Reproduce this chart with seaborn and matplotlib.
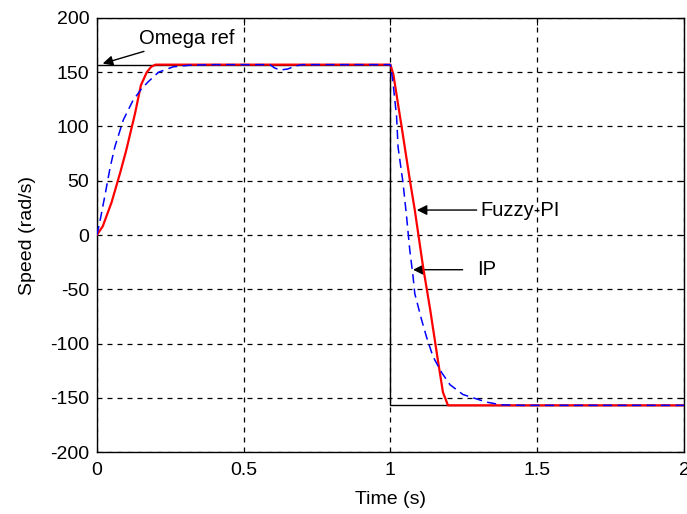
import matplotlib
matplotlib.use("Agg")
import matplotlib.pyplot as plt
import seaborn as sns
import pandas as pd

# Speed reference (rad/s)
ref_t = [0.0, 1.0, 1.0, 2.0]
ref_w = [157, 157, -157, -157]

# Fuzzy-PI controller response
fz_t = [0.0, 0.02, 0.05, 0.08, 0.10, 0.13, 0.15, 0.17, 0.185, 0.20,
        1.00, 1.01, 1.038, 1.066, 1.083, 1.111, 1.135, 1.162, 1.179, 1.196, 2.0]
fz_w = [0, 8, 30, 58, 78, 112, 138, 150, 155, 157,
        157, 148, 100, 51, 23, -29, -68, -116, -145, -157, -157]

# IP controller response
ip_t = [0.0, 0.01, 0.03, 0.045, 0.061, 0.09, 0.123, 0.15, 0.174, 0.21, 0.26, 0.317,
        0.40, 0.59, 0.605, 0.624, 0.65, 0.68, 0.70, 1.00,
        1.009, 1.021, 1.026, 1.043, 1.055, 1.066, 1.077, 1.083, 1.106, 1.123, 1.145,
        1.175, 1.203, 1.247, 1.327, 1.378, 1.45, 2.0]
ip_w = [0, 12, 40, 62, 81, 106, 124, 134, 141, 150, 155, 156.5,
        157, 157, 154, 152, 153, 156, 157, 157,
        140, 109, 81, 48, 17, -14, -38, -54, -78, -94, -112,
        -127, -138, -147, -154, -156.5, -157, -157]

x_ticks = [0, 0.5, 1, 1.5, 2]
x_tick_labels = ["0", "0.5", "1", "1.5", "2"]
y_ticks = [-200, -150, -100, -50, 0, 50, 100, 150, 200]

sns.set_style("white")
plt.rcParams["font.family"] = ["Liberation Sans", "DejaVu Sans"]
plt.rcParams["font.size"] = 14
plt.rcParams["axes.unicode_minus"] = False
plt.rcParams["text.color"] = "black"
plt.rcParams["axes.labelcolor"] = "black"

fig = plt.figure(figsize=(6.87, 5.14), dpi=100)
ax = fig.add_axes([0.141, 0.1206, 0.9956 - 0.141, 0.965 - 0.1206])

ref_df = pd.DataFrame({"t": ref_t, "w": ref_w})
fz_df = pd.DataFrame({"t": fz_t, "w": fz_w})
ip_df = pd.DataFrame({"t": ip_t, "w": ip_w})

sns.lineplot(data=ref_df, x="t", y="w", sort=False, estimator=None,
             color="black", linewidth=1.0, ax=ax, zorder=3)
sns.lineplot(data=fz_df, x="t", y="w", sort=False, estimator=None,
             color=(1, 0, 0), linewidth=1.6, ax=ax, zorder=4)
sns.lineplot(data=ip_df, x="t", y="w", sort=False, estimator=None,
             color=(0, 0, 1), linewidth=1.1, ax=ax, zorder=5)
ax.lines[-1].set_dashes([6, 3.5])

ax.set_xlim(0, 2)
ax.set_ylim(-200, 200)
ax.set_xticks(x_ticks)
ax.set_xticklabels(x_tick_labels)
ax.set_yticks(y_ticks)
ax.grid(True, color="black", linestyle=(0, (4, 4)), linewidth=0.9)
ax.tick_params(direction="in", length=5, width=0.8, top=True, right=True,
               labelsize=14, colors="black")
ax.tick_params(axis="x", pad=7)
ax.tick_params(axis="y", pad=5.5)
for s in ax.spines.values():
    s.set_visible(True)
    s.set_color("black")
    s.set_linewidth(1.0)

ax.set_xlabel("Time (s)", fontsize=14)
ax.set_ylabel("Speed (rad/s)", fontsize=14)
ax.xaxis.set_label_coords(0.5, -0.09)
ax.yaxis.set_label_coords(-0.104, 0.5)

arrow = dict(arrowstyle="-|>", color="black", lw=1.0, mutation_scale=15,
             shrinkA=0, shrinkB=0)
ax.annotate("Omega ref", xy=(0.02, 158), xytext=(0.145, 181),
            fontsize=14.5, va="center", ha="left", arrowprops=arrow)
ax.annotate("Fuzzy-PI", xy=(1.090, 23), xytext=(1.305, 23),
            fontsize=14.5, va="center", ha="left", arrowprops=arrow)
ax.annotate("IP", xy=(1.077, -32), xytext=(1.295, -32),
            fontsize=14.5, va="center", ha="left",
            arrowprops=dict(arrow, shrinkA=8))

fig.savefig("out.png", dpi=100)
